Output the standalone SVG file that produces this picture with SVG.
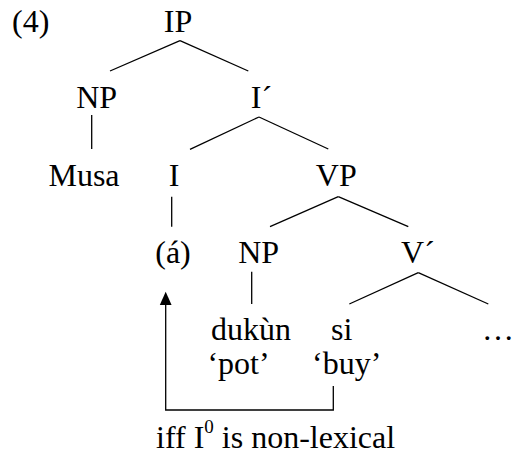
<svg xmlns="http://www.w3.org/2000/svg" width="513" height="457" viewBox="0 0 513 457">
<style>
text{font-family:"Liberation Serif","Times New Roman",serif;font-size:32px;fill:#000}
.m{text-anchor:middle}
.ln{stroke:#000;stroke-width:1.3;fill:none}
</style>
<rect width="513" height="457" fill="#fff"/>
<g id="connectors">
<line class="ln" x1="180" y1="40.7" x2="110" y2="71"/>
<line class="ln" x1="180" y1="40.7" x2="248.3" y2="71"/>
<line class="ln" x1="91.7" y1="115" x2="91.7" y2="149"/>
<line class="ln" x1="259" y1="117" x2="190" y2="149.3"/>
<line class="ln" x1="259" y1="117" x2="328.3" y2="149"/>
<line class="ln" x1="171.7" y1="196.7" x2="171.7" y2="226.7"/>
<line class="ln" x1="338.3" y1="196.7" x2="270" y2="226.7"/>
<line class="ln" x1="338.3" y1="196.7" x2="408.3" y2="226.7"/>
<line class="ln" x1="251.7" y1="271.7" x2="251.7" y2="304"/>
<line class="ln" x1="418.3" y1="272.7" x2="349.3" y2="304"/>
<line class="ln" x1="418.3" y1="272.7" x2="488.3" y2="304"/>
<path class="ln" d="M333.3,386 V410 H165.7 V303"/>
<polygon points="165.7,291.7 159.8,305 171.6,305" fill="#000"/>
</g>
<g id="label4"><text x="12" y="31.7">(4)</text></g>
<g id="IP"><text class="m" x="178" y="31.7">IP</text></g>
<g id="NP1"><text class="m" x="96.7" y="108">NP</text></g>
<g id="Ibar"><text class="m" x="261.5" y="108">I´</text></g>
<g id="Musa"><text class="m" x="84" y="185.5">Musa</text></g>
<g id="I"><text class="m" x="174" y="185.5">I</text></g>
<g id="VP"><text class="m" x="336.3" y="186">VP</text></g>
<g id="a"><text class="m" x="173" y="263">(á)</text></g>
<g id="NP2"><text class="m" x="258.7" y="263">NP</text></g>
<g id="Vbar"><text class="m" x="418" y="262.5">V´</text></g>
<g id="dukun"><text class="m" x="251" y="340">dukùn</text><text class="m" x="238.5" y="374">‘pot’</text></g>
<g id="si"><text class="m" x="341.7" y="340">si</text><text class="m" x="346.7" y="374">‘buy’</text></g>
<g id="ellipsis"><text class="m" x="498" y="340">…</text></g>
<g id="note"><text x="156" y="448.3">iff I<tspan font-size="19" dy="-15">0</tspan><tspan dy="15"> is non-lexical</tspan></text></g>
</svg>
